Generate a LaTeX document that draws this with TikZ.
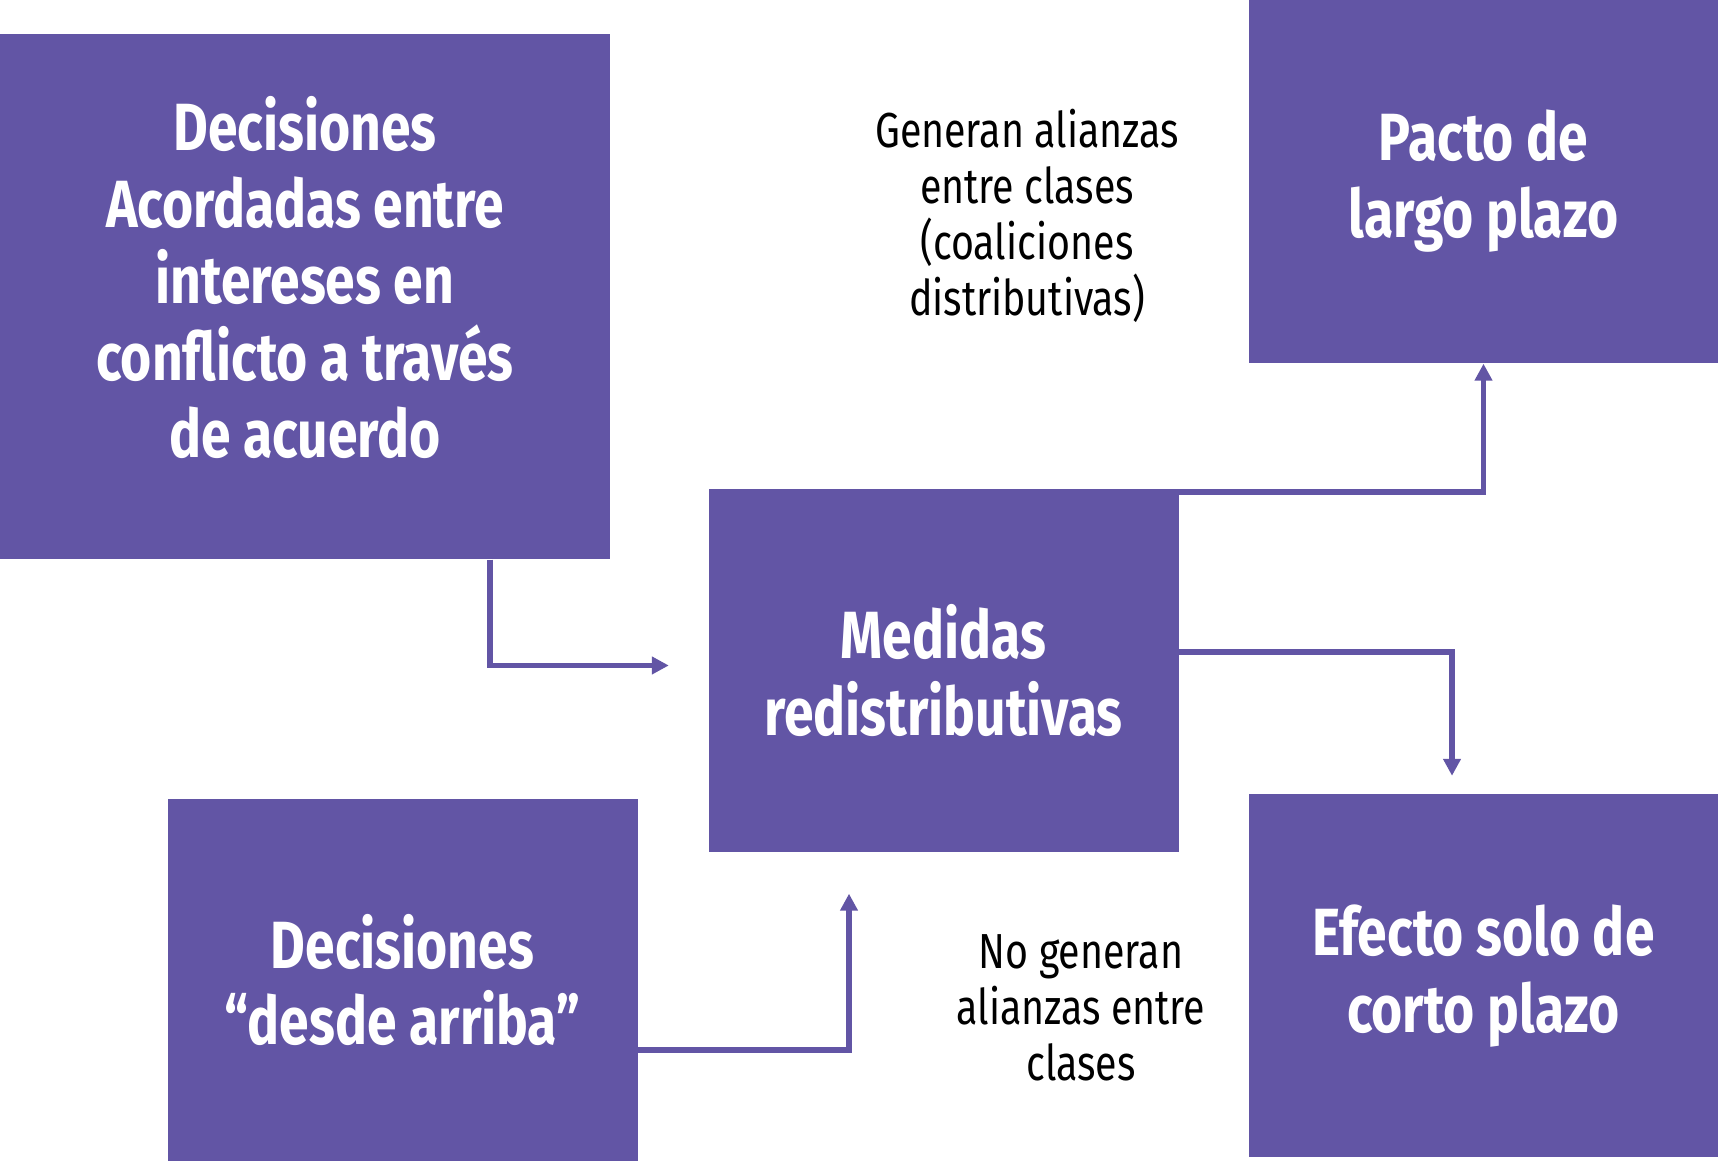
\documentclass[tikz,border=0pt]{standalone}
\usepackage{fontspec}
\setmainfont{Fira Sans}[FakeStretch=0.8]
\usetikzlibrary{arrows.meta}
\definecolor{lila}{RGB}{98,85,165}

\begin{document}
\begin{tikzpicture}[box/.style={fill=lila,inner sep=0pt,minimum width=4.7cm,minimum height=3.63cm,
    text=white,align=center,font=\bfseries\fontsize{19}{21.9}\selectfont},
  boxtext/.style={text=white,align=center,font=\bfseries\fontsize{19}{21.9}\selectfont},
  note/.style={align=center,font=\fontsize{14}{16}\selectfont},
  link/.style={->,>={Triangle[length=0.17cm,width=0.17cm]},draw=lila,line width=1.6pt}]
\useasboundingbox (0,0) rectangle (17.18,11.61);

\node[box,minimum width=6.1cm,minimum height=5.25cm] (acuerdo) at (3.05,8.645) {};
\node[boxtext] (acuerdotxt) at ([yshift=0.19cm]acuerdo.center)
  {Decisiones\\Acordadas entre\\intereses en\\conflicto a través\\de acuerdo};
\node[box] (medidas) at (9.435,4.905) {Medidas\\redistributivas};
\node[box,minimum width=4.69cm] (pacto) at (14.835,9.795) {Pacto de\\largo plazo};
\node[box,minimum width=4.69cm] (efecto) at (14.835,1.85) {Efecto solo de\\corto plazo};
\node[box,minimum height=3.62cm] (arriba) at (4.025,1.81) {Decisiones\\“desde arriba”};

\node[note] (alianzas) at (10.27,9.45) {Generan alianzas\\entre clases\\(coaliciones\\distributivas)};
\node[note] (sinalianzas) at (10.81,1.53) {No generan\\alianzas entre\\clases};

\draw[link] ([xshift=1.85cm]acuerdo.south) |- ([xshift=-0.39cm,yshift=0.05cm]medidas.west);
\draw[link] ([yshift=-0.7cm]arriba.east) -| ([xshift=-0.945cm,yshift=-0.41cm]medidas.south);
\draw[link] ([yshift=-0.04cm]medidas.north east) -| (pacto.south);
\draw[link] ([yshift=-1.64cm]medidas.north east) -| ([xshift=-0.315cm,yshift=0.18cm]efecto.north);
\end{tikzpicture}
\end{document}
